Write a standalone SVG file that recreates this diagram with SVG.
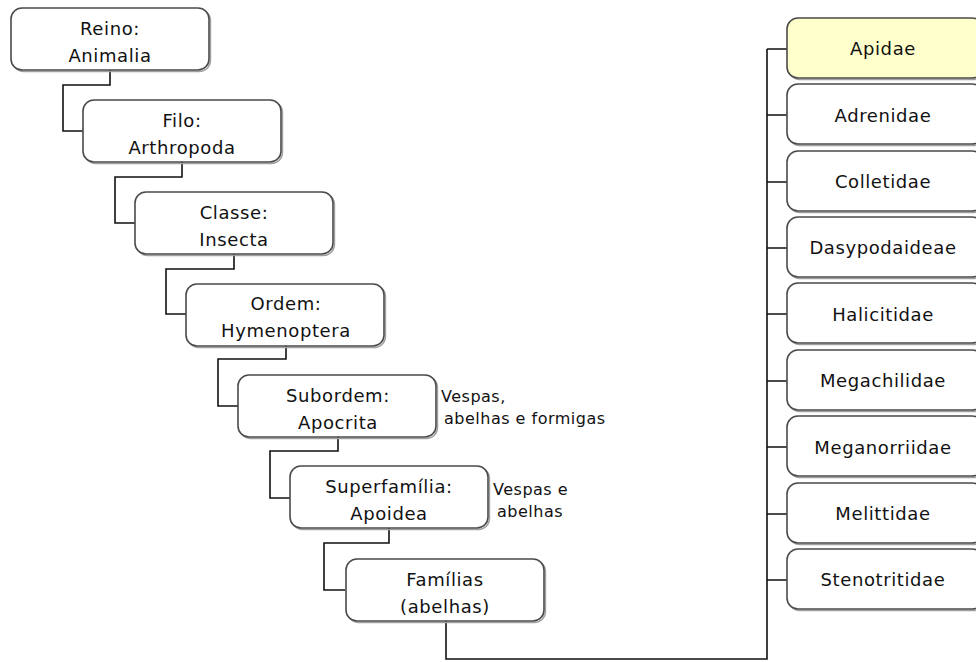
<svg xmlns="http://www.w3.org/2000/svg" width="976" height="662" viewBox="0 0 976 662">
<style>
.box{fill:#ffffff;stroke:#4a4a4a;stroke-width:1.6}
.sh{fill:none;stroke:#a0a0a0;stroke-width:1.4}
.hl{fill:#ffffcc}
.t{font-family:"DejaVu Sans","Liberation Sans",sans-serif;font-size:18px;letter-spacing:0.6px;fill:#111;text-anchor:middle}
.a{font-family:"DejaVu Sans","Liberation Sans",sans-serif;font-size:16px;letter-spacing:0.5px;fill:#111}
.c{fill:none;stroke:#111;stroke-width:1.6}
</style>
<defs>
<rect id="lb" width="198" height="62" rx="11"/>
<rect id="rb" width="196" height="60" rx="11"/>
</defs>
<rect width="976" height="662" fill="#ffffff"/>
<g id="connectors" class="c">
<path d="M110,70 V85 H63 V131 H83"/>
<path d="M182,162 V177 H115 V223 H135"/>
<path d="M234,254 V269 H166 V314 H186"/>
<path d="M286,345 V359 H218 V406 H238"/>
<path d="M338,437 V451 H270 V498 H290"/>
<path d="M389,528 V543 H324 V590 H345"/>
<path d="M446,621 V659 H767 V49"/>
<path d="M767,49 H787 M767,115 H787 M767,182 H787 M767,248 H787 M767,314 H787 M767,381 H787 M767,447 H787 M767,514 H787 M767,580 H787"/>
</g>
<g id="reino"><use href="#lb" class="sh" x="12.5" y="9.5"/><use href="#lb" class="box" x="11" y="8"/><text class="t" x="110" y="35">Reino:</text><text class="t" x="110" y="62">Animalia</text></g>
<g id="filo"><use href="#lb" class="sh" x="84.5" y="101.5"/><use href="#lb" class="box" x="83" y="100"/><text class="t" x="182" y="127">Filo:</text><text class="t" x="182" y="154">Arthropoda</text></g>
<g id="classe"><use href="#lb" class="sh" x="136.5" y="193.5"/><use href="#lb" class="box" x="135" y="192"/><text class="t" x="234" y="219">Classe:</text><text class="t" x="234" y="246">Insecta</text></g>
<g id="ordem"><use href="#lb" class="sh" x="187.5" y="285.5"/><use href="#lb" class="box" x="186" y="284"/><text class="t" x="286" y="310">Ordem:</text><text class="t" x="286" y="337">Hymenoptera</text></g>
<g id="subordem"><use href="#lb" class="sh" x="239.5" y="376.5"/><use href="#lb" class="box" x="238" y="375"/><text class="t" x="338" y="402">Subordem:</text><text class="t" x="338" y="429">Apocrita</text></g>
<g id="superfamilia"><use href="#lb" class="sh" x="291.5" y="467.5"/><use href="#lb" class="box" x="290" y="466"/><text class="t" x="389" y="493">Superfamília:</text><text class="t" x="389" y="520">Apoidea</text></g>
<g id="familias"><use href="#lb" class="sh" x="347.5" y="560.5"/><use href="#lb" class="box" x="346" y="559"/><text class="t" x="445" y="586">Famílias</text><text class="t" x="445" y="613">(abelhas)</text></g>
<g id="ann1"><text class="a" x="441" y="402">Vespas,</text><text class="a" x="444" y="424">abelhas e formigas</text></g>
<g id="ann2"><text class="a" x="493" y="495">Vespas e</text><text class="a" x="497" y="517">abelhas</text></g>
<g id="apidae"><use href="#rb" class="sh" x="788.5" y="19.5"/><use href="#rb" class="box hl" x="787" y="18"/><text class="t" x="883" y="55">Apidae</text></g>
<g id="adrenidae"><use href="#rb" class="sh" x="788.5" y="85.5"/><use href="#rb" class="box" x="787" y="84"/><text class="t" x="883" y="122">Adrenidae</text></g>
<g id="colletidae"><use href="#rb" class="sh" x="788.5" y="152.5"/><use href="#rb" class="box" x="787" y="151"/><text class="t" x="883" y="188">Colletidae</text></g>
<g id="dasypodaideae"><use href="#rb" class="sh" x="788.5" y="218.5"/><use href="#rb" class="box" x="787" y="217"/><text class="t" x="883" y="254">Dasypodaideae</text></g>
<g id="halicitidae"><use href="#rb" class="sh" x="788.5" y="284.5"/><use href="#rb" class="box" x="787" y="283"/><text class="t" x="883" y="321">Halicitidae</text></g>
<g id="megachilidae"><use href="#rb" class="sh" x="788.5" y="351.5"/><use href="#rb" class="box" x="787" y="350"/><text class="t" x="883" y="387">Megachilidae</text></g>
<g id="meganorriidae"><use href="#rb" class="sh" x="788.5" y="417.5"/><use href="#rb" class="box" x="787" y="416"/><text class="t" x="883" y="454">Meganorriidae</text></g>
<g id="melittidae"><use href="#rb" class="sh" x="788.5" y="484.5"/><use href="#rb" class="box" x="787" y="483"/><text class="t" x="883" y="520">Melittidae</text></g>
<g id="stenotritidae"><use href="#rb" class="sh" x="788.5" y="550.5"/><use href="#rb" class="box" x="787" y="549"/><text class="t" x="883" y="586">Stenotritidae</text></g>
</svg>
